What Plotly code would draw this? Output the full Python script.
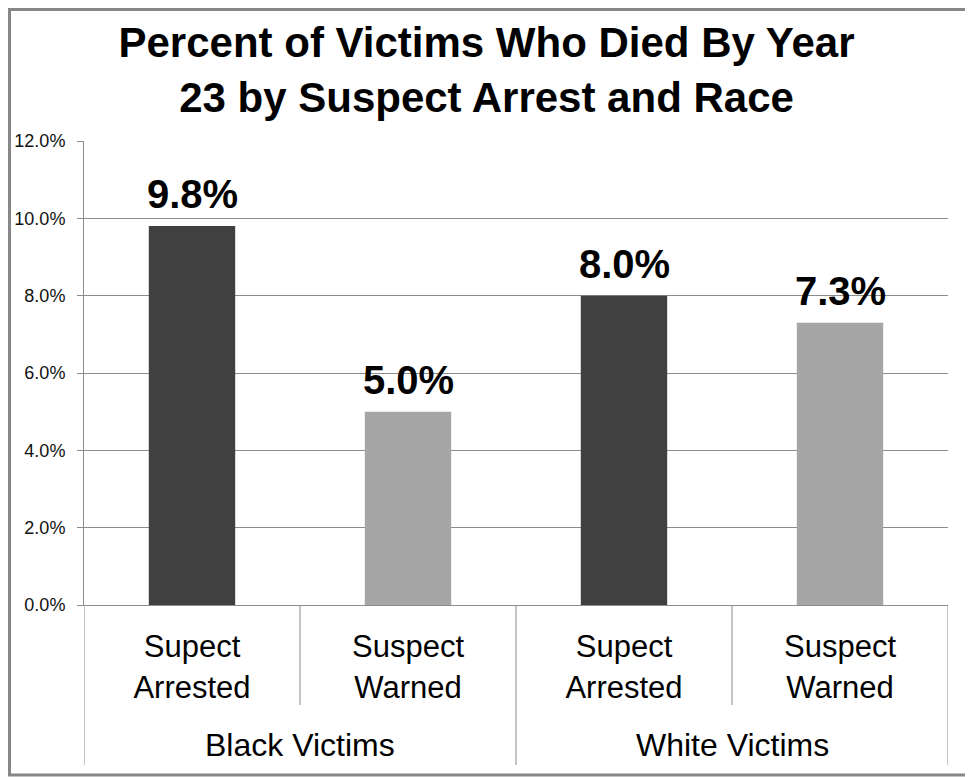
import plotly.graph_objects as go

# data
group_labels = ["Black Victims", "White Victims"]
suspect_outcome = ["Supect<br>Arrested", "Suspect<br>Warned", "Supect<br>Arrested", "Suspect<br>Warned"]
pct_died = [9.8, 5.0, 8.0, 7.3]

bar_colors = ["#404040", "#a6a6a6", "#404040", "#a6a6a6"]
grid_col = "#8c8c8c"
font_main = "Liberation Sans, Arial, sans-serif"

xpos = list(range(len(pct_died)))

fig = go.Figure()
fig.add_trace(go.Bar(
    x=xpos,
    y=pct_died,
    width=0.4,
    marker_color=bar_colors,
    marker_line_width=0,
    showlegend=False,
    hovertemplate="%{y:.1f}%<extra></extra>",
))

# value labels above the bars
for xv, yv in zip(xpos, pct_died):
    fig.add_annotation(x=xv, y=yv, xref="x", yref="y",
                       text="<b>%.1f%%</b>" % yv, showarrow=False,
                       yanchor="bottom", yshift=8,
                       font=dict(size=40, color="black", family=font_main))

# the page sits 8px in from the window corner, margins allow for that
fig.update_layout(
    width=973, height=777,
    margin=dict(l=76, r=33, t=133, b=180),
    paper_bgcolor="white", plot_bgcolor="white",
    font=dict(family=font_main, color="black"),
    title=dict(
        text="<b>Percent of Victims Who Died By Year<br>23 by Suspect Arrest and Race</b>",
        x=0.4918, xref="container", xanchor="center",
        y=0.937, yref="container", yanchor="middle",
        font=dict(size=42, color="black", family=font_main),
    ),
)

fig.update_yaxes(
    range=[0, 12], dtick=2, tickformat=".1f", ticksuffix="%",
    showgrid=True, gridcolor=grid_col, gridwidth=1,
    showline=True, linecolor=grid_col, linewidth=1,
    ticks="outside", ticklen=6, tickcolor=grid_col,
    tickfont=dict(size=18, color="#111111"),
    ticklabelstandoff=8,
    zeroline=False, automargin=False,
)
fig.update_xaxes(
    range=[-0.5, len(pct_died) - 0.5],
    tickvals=xpos, ticktext=suspect_outcome,
    showline=True, linecolor=grid_col, linewidth=1,
    showgrid=False, zeroline=False, ticks="",
    tickfont=dict(size=31, color="black"),
    ticklabelstandoff=14, automargin=False,
)

# group labels under each pair of bars
for gi, glab in enumerate(group_labels):
    fig.add_annotation(x=(xpos[2 * gi] + xpos[2 * gi + 1]) / 2, y=-0.3017,
                       xref="x", yref="paper", text=glab, showarrow=False,
                       yanchor="middle", font=dict(size=32, color="black"))

# separators between the category labels
for xv in [0.5, 2.5]:
    fig.add_shape(type="line", xref="x", yref="paper",
                  x0=xv, x1=xv, y0=0, y1=-0.2155,
                  line=dict(color=grid_col, width=1))
for xv in [-0.5, 1.5, 3.5]:
    fig.add_shape(type="line", xref="x", yref="paper",
                  x0=xv, x1=xv, y0=0, y1=-0.3448,
                  line=dict(color=grid_col, width=1))

# chart border
fig.add_shape(type="rect", xref="paper", yref="paper",
              x0=-0.0862, x1=1.0255, y0=-0.3664, y1=1.2834,
              line=dict(color="#878787", width=3))

fig.write_html("out.html")
